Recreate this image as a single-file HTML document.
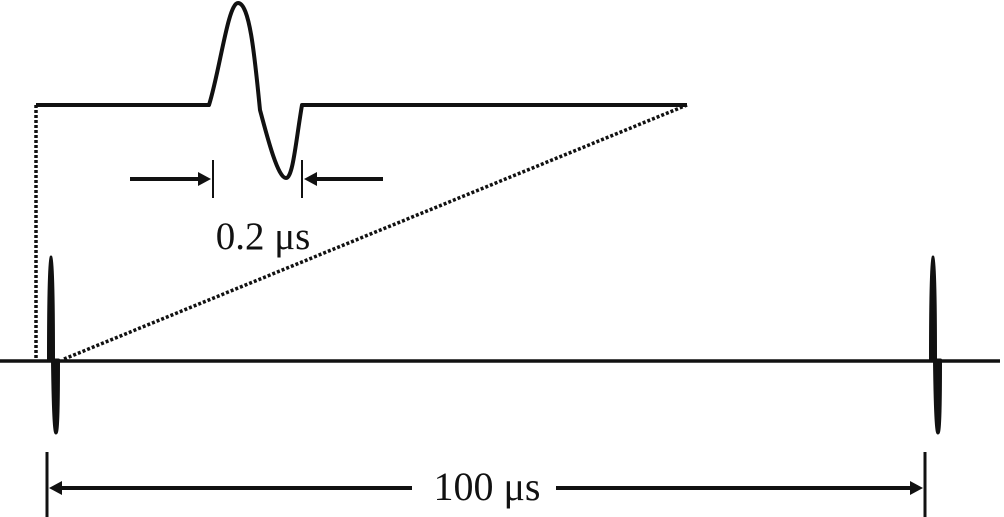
<!DOCTYPE html>
<html><head><style>html,body{margin:0;padding:0;background:#fff;width:1004px;height:517px;overflow:hidden}
text{font-family:"Liberation Serif","Times New Roman",serif}</style></head>
<body>
<svg width="1004" height="517" viewBox="0 0 1004 517" xmlns="http://www.w3.org/2000/svg">
<g fill="none" stroke="#111" stroke-linejoin="round">
<path d="M36 105 H209 C220 70 228 3 238 3 C250 3 255 60 260 110 C268 140 278 178 286 178 C293 178 296 140 302 105 H687" stroke-width="4"/>
<line x1="36" y1="105" x2="36" y2="360" stroke-width="3.5" stroke-dasharray="3,2"/>
<line x1="64" y1="359" x2="687" y2="105" stroke-width="3.5" stroke-dasharray="3,2"/>
<line x1="0" y1="361" x2="1000" y2="361" stroke-width="3.5"/>
<path d="M48.5 360 C48.5 300 49.5 258 51 257 C52.5 258 53.5 300 53.5 360 Z M52.5 360 C53 400 54 433 56 433 C58 433 58.5 400 58.5 360 Z" stroke-width="3" fill="#111"/>
<path d="M930.5 360 C930.5 300 931.5 258 933 257 C934.5 258 935.5 300 935.5 360 Z M934.5 360 C935 400 936 433 938 433 C940 433 940.5 400 940.5 360 Z" stroke-width="3" fill="#111"/>
<line x1="130" y1="179" x2="200" y2="179" stroke-width="4"/>
<line x1="213" y1="160" x2="213" y2="198" stroke-width="2"/>
<line x1="312" y1="179" x2="383" y2="179" stroke-width="4"/>
<line x1="302" y1="160" x2="302" y2="198" stroke-width="2"/>
<line x1="47" y1="452" x2="47" y2="517" stroke-width="3"/>
<line x1="925" y1="452" x2="925" y2="517" stroke-width="3"/>
<line x1="58" y1="488" x2="412" y2="488" stroke-width="4"/>
<line x1="556" y1="488" x2="912" y2="488" stroke-width="4"/>
</g>
<g fill="#111">
<polygon points="211,179 198,172 198,186"/>
<polygon points="304,179 317,172 317,186"/>
<polygon points="49,488 62,481 62,495"/>
<polygon points="923,488 910,481 910,495"/>
</g>
<text x="263" y="249" font-size="39" text-anchor="middle" fill="#111">0.2 μs</text>
<text x="487" y="500" font-size="40" text-anchor="middle" fill="#111">100 μs</text>
</svg>
</body></html>
